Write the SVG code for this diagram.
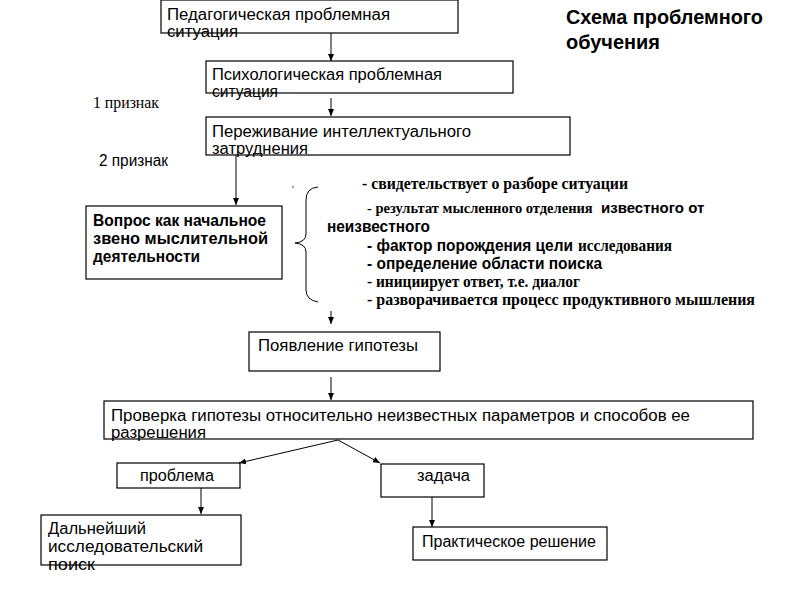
<svg xmlns="http://www.w3.org/2000/svg" width="800" height="600" viewBox="0 0 800 600">
<defs>
<marker id="ah" markerWidth="8" markerHeight="8" refX="7" refY="4" orient="auto" markerUnits="userSpaceOnUse">
<path d="M0,1 L7,4 L0,7 Z" fill="#000"/>
</marker>
<style>
.box{fill:#fff;stroke:#000;stroke-width:1.2}
.t{font-family:"Liberation Sans",Arial,sans-serif;font-size:16px;fill:#000}
.b{font-weight:bold}
.s{font-family:"Liberation Serif","Times New Roman",serif;font-size:16px;fill:#000}
.c{stroke:#000;stroke-width:1;fill:none}
</style>
</defs>
<rect width="800" height="600" fill="#fff"/>
<g id="title"><text class="t b" x="566" y="24" style="font-size:20px" textLength="197" lengthAdjust="spacingAndGlyphs">Схема проблемного</text><text class="t b" x="566" y="49" style="font-size:20px" textLength="94" lengthAdjust="spacingAndGlyphs">обучения</text></g>
<g id="n1"><rect class="box" x="161" y="0" width="297" height="33"/><text class="t" x="167" y="20" textLength="223" lengthAdjust="spacingAndGlyphs">Педагогическая проблемная</text><text class="t" x="167" y="37" textLength="71" lengthAdjust="spacingAndGlyphs">ситуация</text></g>
<g id="n2"><rect class="box" x="206" y="61" width="307" height="32"/><text class="t" x="212" y="80" textLength="230" lengthAdjust="spacingAndGlyphs">Психологическая проблемная</text><text class="t" x="212" y="97" textLength="66" lengthAdjust="spacingAndGlyphs">ситуация</text></g>
<g id="n3"><rect class="box" x="206" y="117" width="364" height="38"/><text class="t" x="212" y="137" textLength="259" lengthAdjust="spacingAndGlyphs">Переживание интеллектуального</text><text class="t" x="212" y="154" textLength="96" lengthAdjust="spacingAndGlyphs">затруднения</text></g>
<text class="s" x="93" y="108" textLength="66" lengthAdjust="spacingAndGlyphs">1 признак</text>
<text class="t" x="99" y="166" textLength="69" lengthAdjust="spacingAndGlyphs">2 признак</text>
<g id="n4"><rect class="box" x="86" y="206" width="196" height="73"/><text class="t b" x="93" y="226" textLength="173" lengthAdjust="spacingAndGlyphs">Вопрос как начальное</text><text class="t b" x="93" y="244" textLength="175" lengthAdjust="spacingAndGlyphs">звено мыслительной</text><text class="t b" x="93" y="262" textLength="107" lengthAdjust="spacingAndGlyphs">деятельности</text></g>
<g id="list">
<path class="c" d="M318,187 Q306,188 306,200 L306,234 Q306,242 295,243 Q306,244 306,252 L306,290 Q306,300 318,302"/>
<circle cx="293" cy="187" r="0.7" fill="#000"/>
<text class="s b" x="362" y="189" textLength="266" lengthAdjust="spacingAndGlyphs">- свидетельствует о разборе ситуации</text>
<text y="213"><tspan class="s b" x="367" style="font-size:14.5px">- результат мысленного отделения</tspan><tspan class="t b" x="601" style="font-size:15px">известного  от</tspan></text>
<text class="t b" x="327" y="232" textLength="103" lengthAdjust="spacingAndGlyphs">неизвестного</text>
<text class="t b" x="367" y="251" textLength="206" lengthAdjust="spacingAndGlyphs">- фактор порождения цели</text>
<text class="s b" x="578" y="251" textLength="94" lengthAdjust="spacingAndGlyphs">исследования</text>
<text class="t b" x="367" y="269" textLength="235" lengthAdjust="spacingAndGlyphs">- определение области поиска</text>
<text class="s b" x="367" y="287" textLength="213" lengthAdjust="spacingAndGlyphs">- инициирует ответ, т.е. диалог</text>
<text class="s b" x="367" y="305" textLength="388" lengthAdjust="spacingAndGlyphs">- разворачивается  процесс продуктивного мышления</text>
</g>
<g id="n5"><rect class="box" x="249" y="332" width="191" height="39"/><text class="t" x="258" y="351" textLength="160" lengthAdjust="spacingAndGlyphs">Появление гипотезы</text></g>
<g id="n6"><rect class="box" x="104" y="401" width="649" height="38"/><text class="t" x="111" y="421" textLength="579" lengthAdjust="spacingAndGlyphs">Проверка гипотезы относительно неизвестных параметров и способов ее</text><text class="t" x="111" y="438" textLength="95" lengthAdjust="spacingAndGlyphs">разрешения</text></g>
<g id="n7"><rect class="box" x="117" y="463" width="123" height="25"/><text class="t" x="140" y="481" textLength="74" lengthAdjust="spacingAndGlyphs">проблема</text></g>
<g id="n8"><rect class="box" x="381" y="464" width="103" height="33"/><text class="t" x="417" y="481" textLength="53" lengthAdjust="spacingAndGlyphs">задача</text></g>
<g id="n9"><rect class="box" x="41" y="515" width="200" height="50"/><text class="t" x="48" y="534" textLength="98" lengthAdjust="spacingAndGlyphs">Дальнейший</text><text class="t" x="48" y="552" textLength="155" lengthAdjust="spacingAndGlyphs">исследовательский</text><text class="t" x="48" y="570" textLength="47" lengthAdjust="spacingAndGlyphs">поиск</text></g>
<g id="n10"><rect class="box" x="413" y="527" width="194" height="33"/><text class="t" x="422" y="547" textLength="174" lengthAdjust="spacingAndGlyphs">Практическое решение</text></g>
<g id="connectors">
<line class="c" x1="331" y1="33" x2="331" y2="61" marker-end="url(#ah)"/>
<line class="c" x1="331" y1="98" x2="331" y2="116" marker-end="url(#ah)"/>
<line class="c" x1="236" y1="155" x2="236" y2="205" marker-end="url(#ah)"/>
<line class="c" x1="331" y1="311" x2="331" y2="324" marker-end="url(#ah)"/>
<line class="c" x1="331" y1="377" x2="331" y2="400" marker-end="url(#ah)"/>
<line class="c" x1="338" y1="440" x2="239" y2="463" marker-end="url(#ah)"/>
<line class="c" x1="338" y1="440" x2="380" y2="463" marker-end="url(#ah)"/>
<line class="c" x1="201" y1="488" x2="201" y2="514" marker-end="url(#ah)"/>
<line class="c" x1="432" y1="497" x2="432" y2="527" marker-end="url(#ah)"/>
</g>
</svg>
